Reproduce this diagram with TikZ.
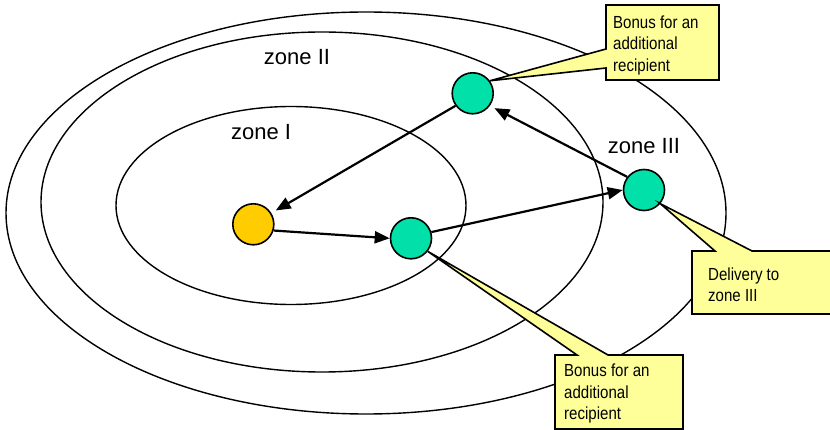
\documentclass[tikz,border=0pt]{standalone}
\usepackage{fontspec}
\setmainfont{Liberation Sans}
\newfontfamily\callfont[FakeStretch=0.86]{Liberation Sans}
\usetikzlibrary{arrows.meta}
\definecolor{dotgreen}{RGB}{0,224,168}
\definecolor{dotorange}{RGB}{255,204,0}
\definecolor{callyellow}{RGB}{255,255,153}
\tikzset{
  zone/.style={draw=black, line width=1.4pt},
  dot/.style={circle, draw=black, line width=1.6pt, minimum size=41pt, inner sep=0pt},
  callout/.style={draw=black, fill=callyellow, line width=1.6pt, line join=miter},
  calltext/.style={anchor=north west, inner sep=0pt, align=left, font=\callfont\fontsize{17.5}{21.6}\selectfont},
  zonelabel/.style={anchor=base, inner sep=0pt, font=\fontsize{22}{26}\selectfont},
  flow/.style={draw=black, line width=2.2pt, -{Triangle[length=15pt,width=12pt]}}
}
\begin{document}
\begin{tikzpicture}[x=1pt, y=-1pt]
\useasboundingbox (0,0) rectangle (830,430);
\clip (0,0) rectangle (830,430);
% zones
\draw[zone] (366,213) ellipse [x radius=360, y radius=201];
\draw[zone] (322,202) ellipse [x radius=281, y radius=170];
\draw[zone] (291,205.5) ellipse [x radius=175, y radius=99];
% dots
\node[dot, fill=dotorange] (o) at (253.3,224.3) {};
\node[dot, fill=dotgreen] (m) at (411,238.3) {};
\node[dot, fill=dotgreen] (g3) at (644,190) {};
\node[dot, fill=dotgreen] (g2) at (472.7,93.3) {};
% callouts
\draw[callout] (606,5) -- (719,5) -- (719,80) -- (606,80) -- (606,68) -- (g2.36) -- (606,49) -- cycle;
\draw[callout] (692,251) -- (715,251) -- (g3.-40) -- (752,251) -- (845,251) -- (845,314) -- (692,314) -- cycle;
\draw[callout] (555,355) -- (577,355) -- (m.-38) -- (608,355) -- (683,355) -- (683,429) -- (555,429) -- cycle;
\node[calltext] (t1) at (613,15.5) {Bonus for an\\additional\\recipient};
\node[calltext] (t2) at (708,267.2) {Delivery to\\zone III};
\node[calltext] (t3) at (564,363.9) {Bonus for an\\additional\\recipient};
% flows
\draw[flow, shorten >=5pt] (g2.216) -- (o.32);
\draw[flow] (o.-17) -- (m.west);
\draw[flow] (m.17) -- (g3.west);
\draw[flow, shorten >=5pt] (g3.142) -- (g2.-36);
% labels
\node[zonelabel] (z2) at (297,64.3) {zone II};
\node[zonelabel] (z1) at (261,139.3) {zone I};
\node[zonelabel] (z3) at (644,153.3) {zone III};
\end{tikzpicture}
\end{document}
